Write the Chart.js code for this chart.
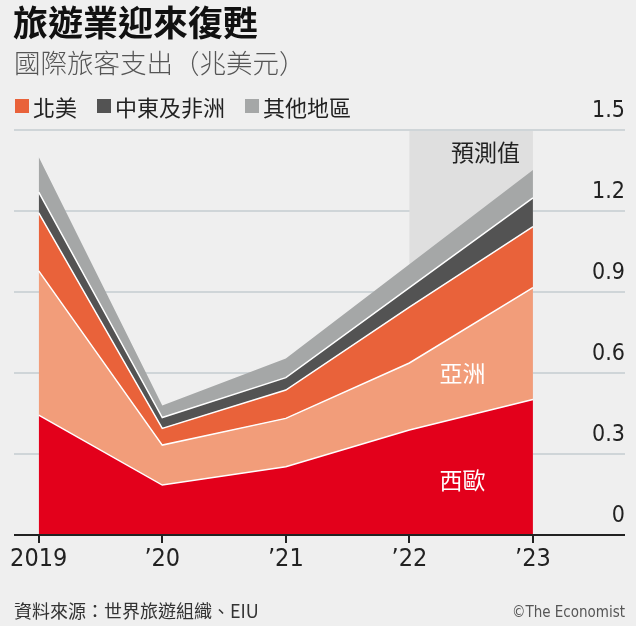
<!DOCTYPE html>
<html><head><meta charset="utf-8">
<script src="https://cdn.jsdelivr.net/npm/chart.js@4/dist/chart.umd.min.js"></script>
<style>
html,body{margin:0;padding:0;background:#efefef;}
#wrap{position:relative;width:636px;height:626px;overflow:hidden;background:#efefef;font-family:"Noto Sans CJK TC","Noto Sans",sans-serif;}
canvas{position:absolute;left:0;top:0;}
.t{position:absolute;white-space:nowrap;line-height:1;}
#legend{position:absolute;left:15px;top:95px;display:flex;align-items:center;font-size:22px;color:#222;line-height:1;}
#legend .it{display:flex;align-items:center;margin-right:20px;}
#legend .sw{width:14px;height:14px;margin-right:4px;}
</style></head><body>
<div id="wrap">
<canvas id="c" width="636" height="626"></canvas>
<div class="t" style="left:13px;top:3px;font-size:35px;font-weight:700;color:#111;">旅遊業迎來復甦</div>
<div class="t" style="left:14px;top:49px;font-size:26.5px;font-weight:300;color:#555;">國際旅客支出（兆美元）</div>
<div id="legend"></div>
<div class="t" style="left:14px;top:601px;font-size:18px;color:#333;">資料來源：世界旅遊組織、EIU</div>
<div class="t" style="right:11px;top:605px;font-size:15px;color:#555;font-family:'Liberation Sans Narrow','DejaVu Sans Condensed',sans-serif;">©The Economist</div>
</div>
<script>
// ---- data ----
const years = [2019, 2020, 2021, 2022, 2023];
const xTickLabels = ['2019', '’20', '’21', '’22', '’23'];
const yTicks = [0, 0.3, 0.6, 0.9, 1.2, 1.5];
const yTickLabels = ['0', '0.3', '0.6', '0.9', '1.2', '1.5'];
const westernEurope = [0.444, 0.185, 0.253, 0.389, 0.502];
const asia = [0.534, 0.148, 0.179, 0.248, 0.414];
const northAmerica = [0.215, 0.062, 0.105, 0.207, 0.226];
const middleEastAfrica = [0.077, 0.040, 0.046, 0.072, 0.107];
const otherRegions = [0.130, 0.045, 0.071, 0.087, 0.103];
const forecastRange = [2022, 2023];

const seriesNames = ['西歐', '亞洲', '北美', '中東及非洲', '其他地區'];
const seriesColors = ['#e3001b', '#f29d7a', '#e9623a', '#535353', '#a5a7a7'];
const seriesData = [westernEurope, asia, northAmerica, middleEastAfrica, otherRegions];
const legendIdx = [2, 3, 4];

// legend
const lg = document.getElementById('legend');
legendIdx.forEach(i => {
  const it = document.createElement('div'); it.className = 'it';
  const sw = document.createElement('span'); sw.className = 'sw'; sw.style.background = seriesColors[i];
  const tx = document.createElement('span'); tx.textContent = seriesNames[i];
  it.appendChild(sw); it.appendChild(tx); lg.appendChild(it);
});

const NUMFONT = "'Liberation Sans Narrow','DejaVu Sans Condensed',sans-serif";
const CJK = "'Noto Sans CJK TC',sans-serif";

const datasets = seriesData.map((d, i) => ({
  label: seriesNames[i],
  data: years.map((x, k) => ({x: x, y: d[k]})),
  backgroundColor: seriesColors[i],
  borderColor: '#ffffff',
  borderWidth: i === 4 ? 0 : 1.5,
  fill: i === 0 ? 'origin' : '-1',
  pointRadius: 0,
  tension: 0
}));

const overlay = {
  id: 'overlay',
  beforeDatasetsDraw(chart) {
    const {ctx, scales: {x, y}} = chart;
    const x0 = x.getPixelForValue(forecastRange[0]);
    const x1 = x.getPixelForValue(forecastRange[1]);
    const y0 = y.getPixelForValue(1.5) + 1;
    const y1 = y.getPixelForValue(0);
    ctx.save();
    ctx.fillStyle = '#dfdfdf';
    ctx.fillRect(x0, y0, x1 - x0, y1 - y0);
    ctx.restore();
  },
  afterDatasetsDraw(chart) {
    const {ctx, chartArea, scales: {x, y}} = chart;
    ctx.save();
    ctx.strokeStyle = '#222';
    ctx.lineWidth = 2;
    ctx.beginPath();
    const yb = y.getPixelForValue(0);
    ctx.moveTo(chartArea.left, yb);
    ctx.lineTo(chartArea.right, yb);
    ctx.stroke();
    ctx.textBaseline = 'middle';
    ctx.font = '23px ' + CJK;
    ctx.fillStyle = '#222';
    ctx.textAlign = 'right';
    ctx.fillText('預測值', x.getPixelForValue(forecastRange[1]) - 13, y.getPixelForValue(1.418));
    ctx.fillStyle = '#ffffff';
    ctx.textAlign = 'center';
    ctx.fillText('亞洲', x.getPixelForValue(2022.43), y.getPixelForValue(0.6));
    ctx.fillText('西歐', x.getPixelForValue(2022.43), y.getPixelForValue(0.204));
    ctx.restore();
  }
};

new Chart(document.getElementById('c'), {
  type: 'line',
  data: {datasets},
  plugins: [overlay],
  options: {
    responsive: false,
    animation: false,
    layout: {padding: {left: 14, right: 11, top: 130, bottom: 51}},
    plugins: {legend: {display: false}, tooltip: {enabled: false}},
    scales: {
      x: {
        type: 'linear', min: 2018.8, max: 2023.745,
        afterBuildTicks: s => { s.ticks = years.map(v => ({value: v})); },
        afterFit: s => { s.height = 40; },
        grid: {drawOnChartArea: false, drawTicks: true, tickLength: 8, color: '#222', lineWidth: 2},
        border: {display: false},
        ticks: {
          autoSkip: false, maxRotation: 0, padding: 1, color: '#222',
          font: {family: NUMFONT, size: 25},
          callback: v => xTickLabels[years.indexOf(v)]
        }
      },
      y: {
        position: 'right', stacked: true, min: 0, max: 1.5,
        afterBuildTicks: s => { s.ticks = yTicks.map(v => ({value: v})); },
        afterFit: s => { s.width = 0; },
        grid: {color: '#cfd5d8', lineWidth: 2, drawTicks: false},
        border: {display: false},
        ticks: {
          mirror: true, padding: 0, labelOffset: -19, color: '#222',
          font: {family: NUMFONT, size: 23},
          callback: v => yTickLabels[yTicks.indexOf(v)]
        }
      }
    }
  }
});
</script>
</body></html>
